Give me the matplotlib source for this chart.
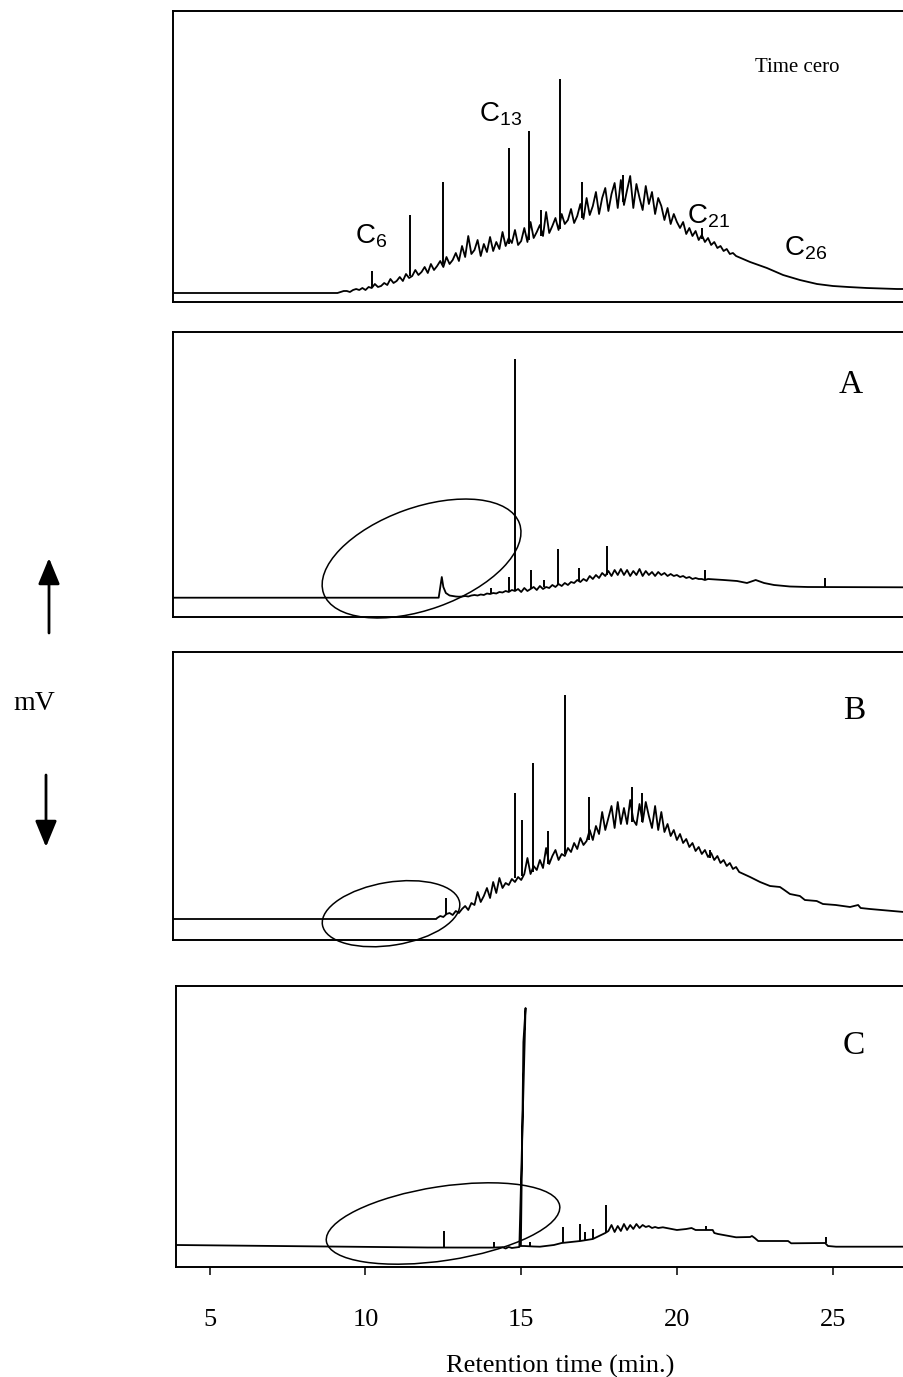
import numpy as np
import matplotlib
matplotlib.use("Agg")
import matplotlib.pyplot as plt
from matplotlib.patches import Ellipse, FancyArrowPatch
from matplotlib.transforms import ScaledTranslation

plt.rcParams['font.family'] = 'Liberation Serif'
plt.rcParams['mathtext.fontset'] = 'custom'
plt.rcParams['mathtext.rm'] = 'Liberation Sans'
plt.rcParams['mathtext.it'] = 'Liberation Sans:italic'

# ---- Time cero ----
t0_head = [3.8, 9.1]
v0_head = [9, 9]
t0_start, t0_step = 9.2, 0.1
v0_grid = [10, 11, 11, 10, 12, 13, 12, 14, 12, 15,
           14, 18, 15, 16, 19, 17, 23, 19, 21, 25,
           21, 28, 24, 26, 32, 27, 30, 35, 29, 38,
           32, 36, 41, 35, 45, 38, 42, 49, 41, 56,
           45, 66, 48, 52, 62, 46, 58, 50, 65, 51,
           60, 53, 70, 56, 64, 59, 72, 57, 61, 74,
           60, 80, 64, 70, 77, 66, 90, 69, 76, 84,
           72, 88, 78, 82, 93, 79, 86, 98, 83, 104,
           87, 96, 110, 88, 104, 114, 91, 108, 119, 94,
           122, 97, 112, 126, 94, 118, 104, 92, 116, 98,
           110, 88, 104, 96, 82, 94, 78, 88, 80, 74,
           80, 68, 74, 66, 71, 62, 67, 60, 64, 57,
           60, 54, 56, 51, 53, 48, 49, 46]
t0_tail = [22.35, 22.89, 23.41, 23.95, 24.5, 25.01, 25.5, 26.1, 27.07, 27.3]
v0_tail = [40, 34, 27, 22, 18, 16, 15, 14, 13, 13]
sp0_t = [10.20, 11.43, 12.48, 14.61, 15.25, 15.65, 16.24, 16.94, 18.27, 20.81]
sp0_base = [15, 26, 38, 58, 62, 66, 73, 84, 100, 63]
sp0_top = [31, 87, 120, 154, 171, 92, 223, 120, 127, 74]

# ---- A ----
t1_head = [3.82, 12.35, 12.45, 12.5, 12.58, 12.7, 12.9, 13.0]
v1_head = [19.3, 19.3, 40, 30, 24, 21.5, 20.5, 20.3]
t1_start, t1_step = 13.1, 0.1
v1_grid = [20.5, 21, 20.5, 21.5, 22, 21.5, 22.5, 22, 23.5, 23,
           24, 23.5, 25, 24.5, 26, 25, 27, 26, 28, 25,
           29, 26, 28, 30, 27, 31, 28, 30, 29, 32,
           30, 33, 31, 34, 32, 35, 34, 37, 35, 38,
           36, 41, 38, 42, 39, 44, 41, 46, 41, 47,
           42, 48, 42, 47, 41, 46, 42, 48, 41, 46,
           42, 45, 41, 45, 42, 44, 41, 43, 41, 42,
           40, 41, 39, 40, 38, 39, 38, 38, 37, 38]
t1_tail = [21.5, 21.93, 22.25, 22.53, 22.8, 23.12, 23.63, 24.2, 27.29]
v1_tail = [37, 36, 34, 37, 34, 32, 30.5, 30, 29.7]
sp1_t = [14.03, 14.61, 14.80, 15.31, 15.73, 16.17, 16.86, 17.77, 20.90, 24.75]
sp1_base = [24, 26, 26, 28, 30, 32, 36, 42, 38, 30]
sp1_top = [29, 40, 258, 47, 37, 68, 49, 71, 47, 39]

# ---- B ----
t2_head = [3.82, 12.27]
v2_head = [21, 21]
t2_start, t2_step = 12.3, 0.1
v2_grid = [22, 24, 23, 26, 27, 25, 29, 27, 31, 34,
           30, 37, 35, 48, 38, 44, 52, 42, 58, 47,
           62, 52, 57, 55, 61, 58, 63, 60, 66, 82,
           66, 74, 70, 80, 72, 92, 76, 84, 90, 80,
           86, 84, 92, 88, 97, 91, 102, 95, 99, 110,
           100, 114, 106, 128, 110, 122, 134, 112, 138, 116,
           132, 116, 140, 120, 115, 136, 118, 138, 124, 112,
           134, 110, 128, 108, 116, 104, 110, 100, 106, 97,
           101, 93, 97, 89, 93, 86, 90, 83, 87, 80,
           84, 77, 80, 74, 77, 71, 73, 68]
t2_tail = [22.35, 22.67, 22.99, 23.31, 23.45, 23.63, 23.95, 24.11, 24.49, 24.69,
           25.1, 25.56, 25.82, 25.9, 26.2, 27.29]
v2_tail = [63, 58, 54, 53, 50, 46, 44, 40, 39, 36, 35, 33, 35, 32, 31, 28]
sp2_t = [12.6, 14.80, 15.02, 15.37, 15.87, 16.40, 17.19, 18.55, 18.87, 21.06]
sp2_base = [25, 62, 64, 68, 76, 86, 100, 118, 118, 82]
sp2_top = [42, 147, 120, 177, 109, 245, 143, 153, 147, 90]

# ---- C ----
t3 = [3.915, 12.0, 14.1, 14.4, 14.5, 14.6, 14.7, 14.94, 15.14, 15.07, 14.99, 15.1, 15.4, 15.6,
      16.05, 16.3, 16.6, 16.9, 17.1, 17.3, 17.5, 17.7,
      17.8, 17.9, 18.0, 18.1, 18.2, 18.3, 18.4, 18.5, 18.6, 18.7, 18.8, 18.9, 19.0, 19.1,
      19.2, 19.3, 19.4,
      19.55, 20.0, 20.3, 20.47, 20.6, 21.15, 21.2, 21.32, 21.9, 22.35, 22.41, 22.5, 22.61,
      23.57, 23.67, 24.76, 24.85, 25.11, 27.29]
v3 = [22, 19.5, 19.4, 19.8, 18.5, 20, 19, 20, 259, 225, 21, 21, 20.5, 20.3,
      22, 24, 25, 26, 27, 28, 31, 34,
      36, 42, 35, 41, 36, 43, 37, 42, 38, 43, 39, 42, 40, 41,
      39, 40, 39,
      39.7, 37, 38, 39, 37, 37, 34, 33, 29.7, 30, 31, 29, 26,
      26, 23.7, 24, 21, 20.3, 20.3]
sp3_t = [12.51, 14.14, 15.28, 16.33, 16.89, 17.05, 17.30, 17.72, 20.93, 24.79]
sp3_base = [19.4, 19.4, 21, 24, 26, 27, 28, 34, 37, 24]
sp3_top = [36, 25, 25, 39.7, 43, 35, 38.3, 62, 41, 30.3]


def grid_times(start, step, vals):
    return list(start + step * np.arange(len(vals)))


traces = [
    (t0_head + grid_times(t0_start, t0_step, v0_grid) + t0_tail, v0_head + v0_grid + v0_tail),
    (t1_head + grid_times(t1_start, t1_step, v1_grid) + t1_tail, v1_head + v1_grid + v1_tail),
    (t2_head + grid_times(t2_start, t2_step, v2_grid) + t2_tail, v2_head + v2_grid + v2_tail),
    (t3, v3),
]
spikes = [(sp0_t, sp0_base, sp0_top), (sp1_t, sp1_base, sp1_top),
          (sp2_t, sp2_base, sp2_top), (sp3_t, sp3_base, sp3_top)]

# panel boxes in pixels: left, top, bottom
W, H = 904, 1377
boxes = [(173, 11, 302), (173, 332, 617), (173, 652, 940), (176, 986, 1267)]
px_per_min, px0 = 31.14, 54.1

fig = plt.figure(figsize=(W / 100, H / 100), dpi=100)
axes = []
for (left, top, bottom), (t, v), (st, sb, stop) in zip(boxes, traces, spikes):
    ax = fig.add_axes([left / W, 1 - bottom / H, 1 - left / W, (bottom - top) / H])
    ax.plot(t, v, color='black', lw=1.3)
    ax.vlines(st, sb, stop, color='black', lw=1.4)
    ax.spines['right'].set_visible(False)
    for s in ['left', 'top', 'bottom']:
        ax.spines[s].set_linewidth(1.4)
    ax.set_yticks([])
    ax.set_xticks([])
    axes.append(ax)

ax0, ax1, ax2, ax3 = axes

# labels
sans = 'Liberation Sans'
ax0.text(9.66, 59, 'C$_{6}$', fontsize=20, family=sans, va='baseline')
ax0.text(13.65, 180, 'C$_{13}$', fontsize=20, family=sans, va='baseline')
ax0.text(20.32, 79, 'C$_{21}$', fontsize=20, family=sans, va='baseline')
ax0.text(23.44, 47, 'C$_{26}$', fontsize=20, family=sans, va='baseline')
ax0.text(22.51, 230, 'Time cero', fontsize=15, va='baseline')
ax1.text(25.59, 224, 'A', fontsize=24, ha='center', va='baseline')
ax2.text(25.69, 221, 'B', fontsize=24, ha='center', va='baseline')
ax3.text(25.69, 213, 'C', fontsize=24, ha='center', va='baseline')

# ellipses: centre (min, signal), size in pixels, angle
ell = [(ax1, 11.80, 58.5, 208, 102, 19.7),
       (ax2, 10.82, 26.3, 139, 63, 9.3),
       (ax3, 12.49, 43.5, 236, 74, 8.7)]
for ax, cx, cy, w, h, ang in ell:
    e = Ellipse((0, 0), w / 100, h / 100, angle=ang, fill=False, lw=1.1, ec='black',
                transform=fig.dpi_scale_trans + ScaledTranslation(cx, cy, ax.transData),
                clip_on=False)
    ax.add_patch(e)

for (left, top, bottom), ax in zip(boxes, axes):
    ax.set_xlim((left - px0) / px_per_min, (W - px0) / px_per_min)
    ax.set_ylim(0, bottom - top)

ax3.set_xticks([5, 10, 15, 20, 25])
ax3.tick_params(axis='x', direction='out', length=6, width=1.1, pad=24, labelsize=19)
fig.text(560 / W, 1 - 1366 / H, 'Retention time (min.)', fontsize=19, ha='center', va='center')

# mV axis
fig.text(34 / W, 1 - 703 / H, 'mV', fontsize=20, ha='center', va='center')
arrow = '-|>,head_length=0.8,head_width=0.33'
fig.add_artist(FancyArrowPatch((49 / W, 1 - 633 / H), (49 / W, 1 - 558 / H),
                               transform=fig.transFigure, arrowstyle=arrow,
                               mutation_scale=20, lw=2, color='black',
                               shrinkA=0, shrinkB=0))
fig.add_artist(FancyArrowPatch((46 / W, 1 - 775 / H), (46 / W, 1 - 847 / H),
                               transform=fig.transFigure, arrowstyle=arrow,
                               mutation_scale=20, lw=2, color='black',
                               shrinkA=0, shrinkB=0))

fig.savefig('out.png', dpi=100)
